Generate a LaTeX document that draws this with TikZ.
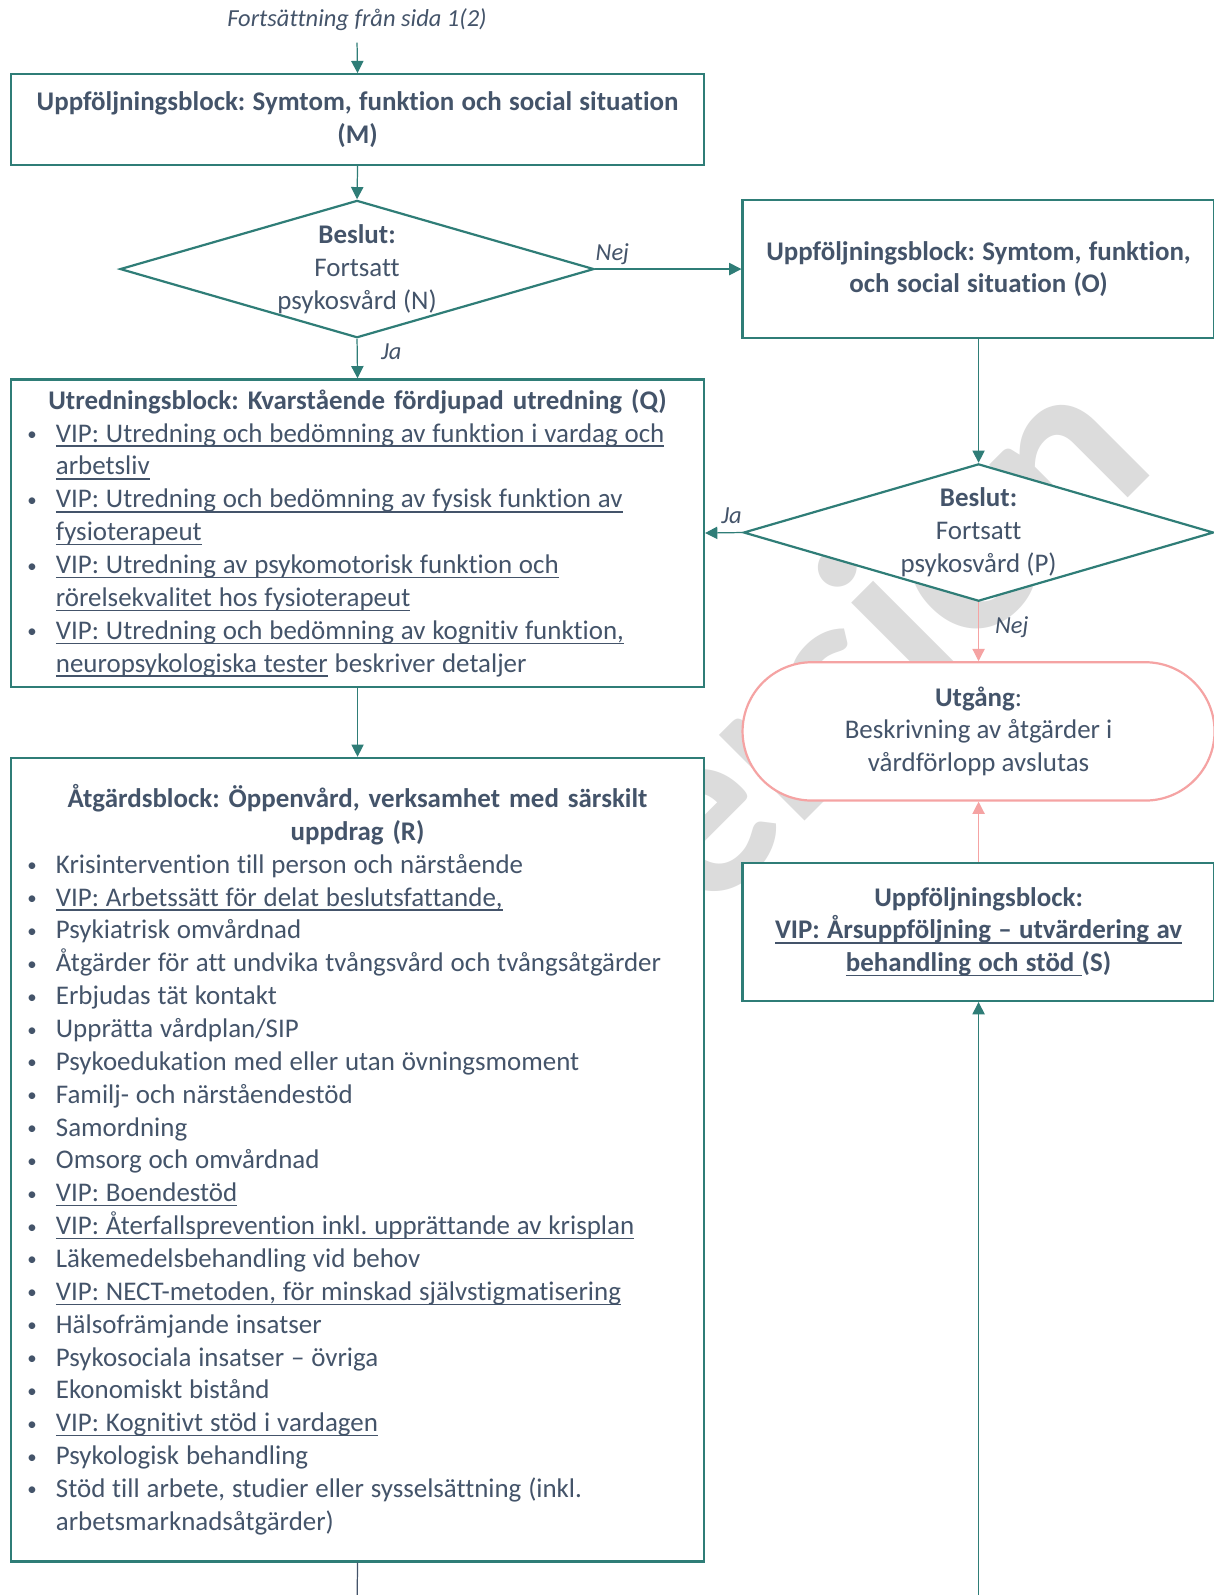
\documentclass[tikz,border=0pt]{standalone}
\usepackage{fontspec}
\setmainfont{Carlito}[Ligatures=NoCommon, BoldFeatures={WordSpace=1.2}]
\usetikzlibrary{shapes.geometric,arrows.meta}
\definecolor{flowteal}{HTML}{2F7D77}
\definecolor{flowtext}{HTML}{44546A}
\definecolor{exitpink}{HTML}{F5A3A3}
\definecolor{wmgray}{HTML}{DCDCDC}
\frenchspacing
\newsavebox\lnkbox
\newcommand\lnk[1]{\sbox\lnkbox{#1}\rlap{\rule[-1.9pt]{\wd\lnkbox}{0.55pt}}\usebox\lnkbox}
\newlength\blockw
\setlength\blockw{283pt}
\newcommand\bitem[1]{\makebox[\blockw][l]{\spaceskip=2.8pt\relax\hspace*{6.6pt}\makebox[11.7pt][l]{\raisebox{0.6pt}{\scalebox{0.7}{•}}}#1}}
\newcommand\bcont[1]{\makebox[\blockw][l]{\spaceskip=2.8pt\relax\hspace*{18.3pt}#1}}
\tikzset{
  block/.style={draw=flowteal, line width=0.9pt, fill=white, text=flowtext, inner sep=0pt,
    align=center, font=\fontsize{11}{13.42}\selectfont},
  decision/.style={diamond, draw=flowteal, fill=white, line width=0.9pt, inner sep=0pt, minimum height=56.1pt},
  dectext/.style={text=flowtext, align=center, font=\fontsize{11}{13.42}\selectfont},
  flow/.style={draw=flowteal, line width=0.5pt, -{Triangle[length=5pt,width=5pt]}},
  exitflow/.style={draw=exitpink, line width=0.5pt, -{Triangle[length=5pt,width=5pt]}},
  answer/.style={text=flowtext, font=\fontsize{10}{12}\selectfont\itshape, inner sep=1.5pt},
}
\begin{document}
\begin{tikzpicture}[x=0.4155pt, y=-0.4155pt]
    \useasboundingbox[fill=white] (0,0) rectangle (1193,1568);
    \node[rotate=45, text=wmgray, font=\fontsize{102}{102}\selectfont\bfseries] (wm) at (810,668) {Version};

    \node[answer] (cont) at (351,19) {Fortsättning från sida 1(2)};
    \coordinate (in) at (351,42);
    \node[block, minimum width=283pt, minimum height=37pt] (M) at (351.5,117.5)
        {\textbf{Uppföljningsblock: Symtom, funktion och social situation}\\\textbf{(M)}};
    \node[decision, minimum width=193.6pt,
        label={[dectext]center:{\textbf{Beslut:}\\Fortsatt\\psykosvård (N)}}] (N) at (351,264.5) {};
    \node[block, minimum width=192.8pt, minimum height=56.1pt] (O) at (962,264.5)
        {\textbf{Uppföljningsblock: Symtom, funktion,}\\\textbf{och social situation (O)}};

    \node[block, text width=\blockw, minimum height=125.5pt] (Q) at (351.5,524)
        {\textbf{Utredningsblock: Kvarstående fördjupad utredning (Q)}\\
         \bitem{\lnk{VIP: Utredning och bedömning av funktion i vardag och}}\\
         \bcont{\lnk{arbetsliv}}\\
         \bitem{\lnk{VIP: Utredning och bedömning av fysisk funktion av}}\\
         \bcont{\lnk{fysioterapeut}}\\
         \bitem{\lnk{VIP: Utredning av psykomotorisk funktion och}}\\
         \bcont{\lnk{rörelsekvalitet hos fysioterapeut}}\\
         \bitem{\lnk{VIP: Utredning och bedömning av kognitiv funktion,}}\\
         \bcont{\lnk{neuropsykologiska tester} beskriver detaljer}};
    \node[decision, minimum width=192pt,
        label={[dectext]center:{\textbf{Beslut:}\\Fortsatt\\psykosvård (P)}}] (P) at (962,523.5) {};

    \node[block, draw=exitpink, rounded corners=28.3pt, minimum width=192.8pt, minimum height=56.5pt] (U) at (962,719)
        {\textbf{Utgång}:\\Beskrivning av åtgärder i\\vårdförlopp avslutas};
    \node[block, minimum width=192.8pt, minimum height=56.5pt] (S) at (962,916)
        {\textbf{Uppföljningsblock:}\\\textbf{\lnk{VIP: Årsuppföljning – utvärdering av}}\\\textbf{\lnk{behandling och stöd }(S)}};

    \node[block, text width=\blockw, minimum height=328.2pt] (R) at (351.5,1140)
        {\textbf{Åtgärdsblock: Öppenvård, verksamhet med särskilt}\\
         \textbf{uppdrag (R)}\\
         \bitem{Krisintervention till person och närstående}\\
         \bitem{\lnk{VIP: Arbetssätt för delat beslutsfattande,}}\\
         \bitem{Psykiatrisk omvårdnad}\\
         \bitem{Åtgärder för att undvika tvångsvård och tvångsåtgärder}\\
         \bitem{Erbjudas tät kontakt}\\
         \bitem{Upprätta vårdplan/SIP}\\
         \bitem{Psykoedukation med eller utan övningsmoment}\\
         \bitem{Familj- och närståendestöd}\\
         \bitem{Samordning}\\
         \bitem{Omsorg och omvårdnad}\\
         \bitem{\lnk{VIP: Boendestöd}}\\
         \bitem{\lnk{VIP: Återfallsprevention inkl. upprättande av krisplan}}\\
         \bitem{Läkemedelsbehandling vid behov}\\
         \bitem{\lnk{VIP: NECT-metoden, för minskad självstigmatisering}}\\
         \bitem{Hälsofrämjande insatser}\\
         \bitem{Psykosociala insatser – övriga}\\
         \bitem{Ekonomiskt bistånd}\\
         \bitem{\lnk{VIP: Kognitivt stöd i vardagen}}\\
         \bitem{Psykologisk behandling}\\
         \bitem{Stöd till arbete, studier eller sysselsättning (inkl.}\\
         \bcont{arbetsmarknadsåtgärder)}};

    \draw[flow] (in) -- (M.north);
    \draw[flow] (M.south) -- (N.north);
    \draw[flow] (N.east) -- node[answer, pos=0, anchor=south west, xshift=-1.5pt] {Nej} (O.west);
    \draw[flow] (N.south) -- node[answer, pos=0.32, anchor=west, xshift=8pt] {Ja} (Q.north);
    \draw[flow] (O.south) -- (P.north);
    \draw[flow] (P.west) -- node[answer, pos=0, anchor=south east, xshift=1.5pt, yshift=2pt] {Ja} (Q.east);
    \draw[exitflow] (P.south) -- node[answer, pos=0.43, anchor=west, xshift=5pt] {Nej} (U.north);
    \draw[exitflow] (S.north) -- (U.south);
    \coordinate (Sin) at (962,1580);
    \draw[flow] (Sin) -- (S.south);
    \draw[flow] (Q.south) -- (R.north);
    \coordinate (Rout) at (351,1580);
    \draw[flowtext, line width=0.5pt] (R.south) -- (Rout);
\end{tikzpicture}
\end{document}
